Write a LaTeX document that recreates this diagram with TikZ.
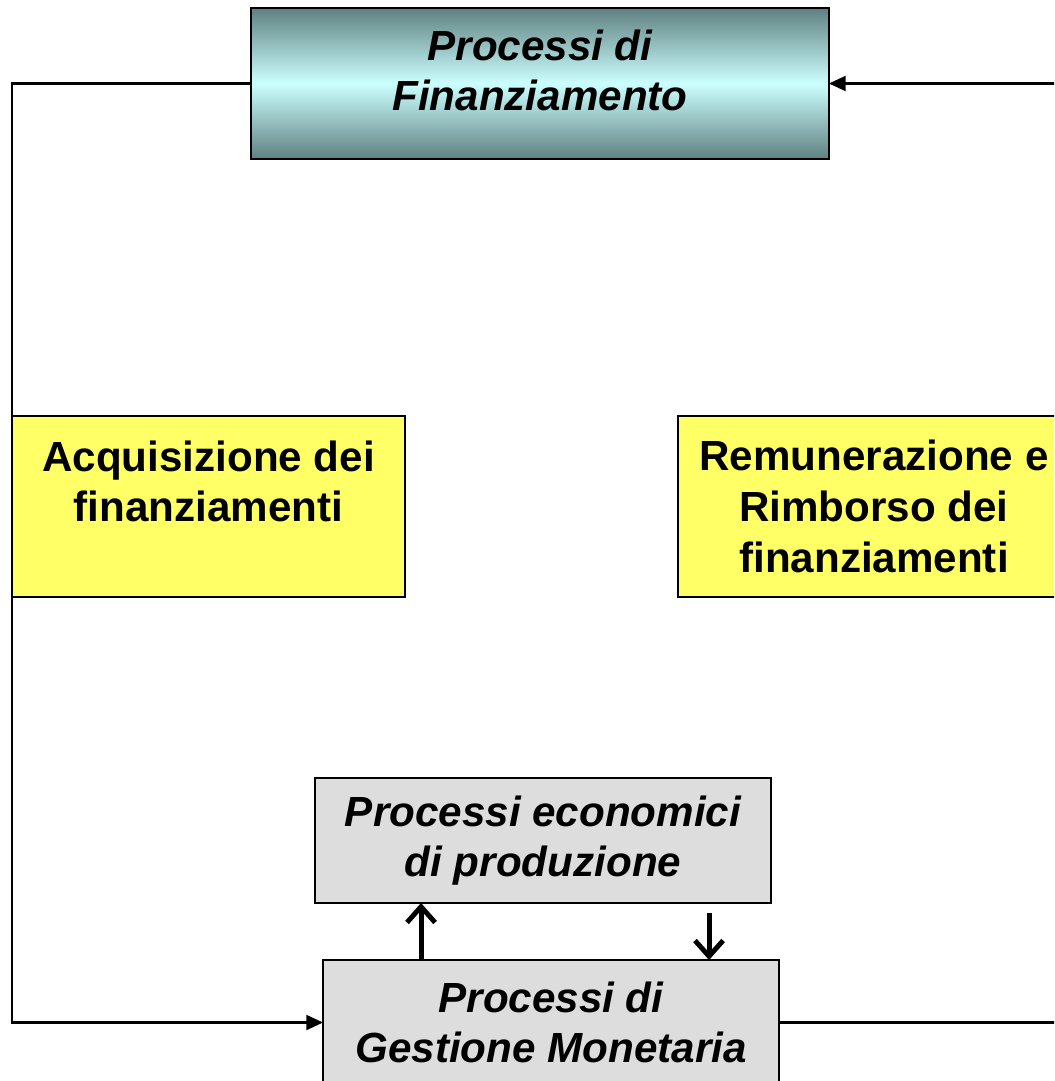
\documentclass[tikz,border=0pt]{standalone}
\usepackage{fontspec}
\setmainfont{Liberation Sans}
\usetikzlibrary{arrows.meta,calc}

\definecolor{finteal}{RGB}{95,128,128}
\definecolor{fincyan}{RGB}{204,255,255}
\definecolor{boxyellow}{RGB}{255,255,102}
\definecolor{boxgray}{RGB}{221,221,221}

\begin{document}
\begin{tikzpicture}[x=0.02cm, y=-0.02cm,
  every node/.style={draw=black, line width=1.1pt, inner sep=0pt, outer sep=0pt, align=center,
    font=\fontsize{24}{28.8}\selectfont\bfseries},
  finbox/.style={minimum width=11.56cm, minimum height=3.02cm, text depth=15pt,
    top color=finteal, bottom color=finteal, middle color=fincyan},
  yellowbox/.style={fill=boxyellow, minimum width=7.86cm, minimum height=3.62cm},
  graybox/.style={fill=boxgray, minimum width=9.12cm, minimum height=2.5cm},
  link/.style={draw=black, line width=1.2pt, -{Triangle[length=9.5pt,width=8.5pt]}},
  flow/.style={draw=black, line width=2.8pt, -{Straight Barb[length=9pt,width=16pt]}}]
\clip (0,0) rectangle (1054,1081);

\node[finbox] (fin) at (540,83.5) {\itshape Processi di\\\itshape Finanziamento};
\node[yellowbox] (acq) at (208.5,506.5) {Acquisizione dei\\finanziamenti\\\mbox{}};
\node[yellowbox] (rem) at (874,506.5) {Remunerazione e\\Rimborso dei\\finanziamenti};
\node[graybox] (eco) at (543,840.5) {\itshape Processi economici\\\itshape di produzione};
\node[graybox] (mon) at (551,1022.5) {\itshape Processi di\\\itshape Gestione Monetaria};

\draw[link] (fin.west) -| (acq.west) |- (mon.west);
\draw[link] (mon.east) -| (rem.east) |- (fin.east);

\draw[flow] ($(mon.north west)+(98,0)$) -- ($(eco.south west)+(106,0)$);
\draw[flow] ($(eco.south west)+(394,10)$) -- ($(mon.north west)+(386,0)$);
\end{tikzpicture}
\end{document}
